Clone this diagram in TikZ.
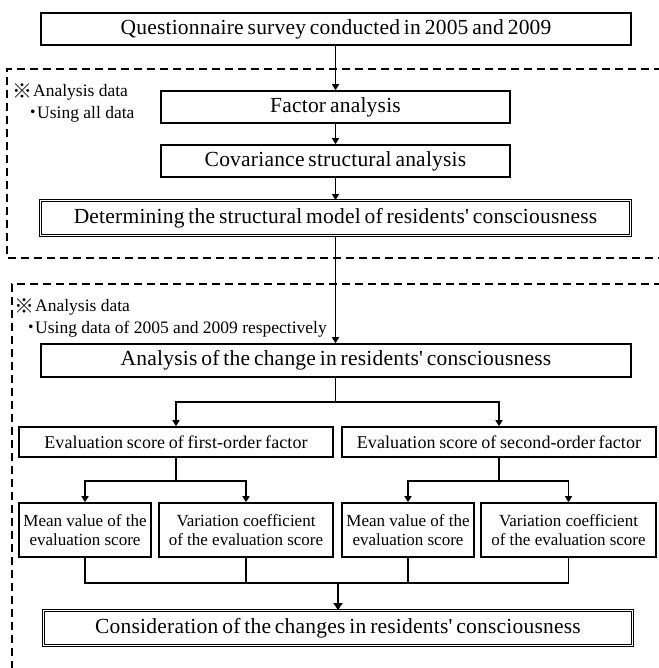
\documentclass[tikz,border=0pt]{standalone}
\usepackage{fontspec}
\setmainfont{Liberation Serif}
\newfontfamily\bigf{Liberation Serif}[LetterSpace=1,WordSpace=0.7]
\newfontfamily\midf{Liberation Serif}[LetterSpace=0.5,WordSpace=0.8]
\newfontfamily\cjk{Noto Sans CJK JP}
\newcommand{\refmark}{\raisebox{-1.5pt}{\cjk\fontsize{20}{18}\selectfont ※}}
\usetikzlibrary{arrows.meta}
\begin{document}
\begin{tikzpicture}[x=1pt,y=-1pt,
  box/.style={draw,line width=1.6pt,inner sep=0pt,align=center},
  bigbox/.style={box,font=\bigf\fontsize{21.5}{23}\selectfont},
  dbox/.style={draw,double,double distance=1.4pt,line width=0.9pt,inner sep=0pt,align=center,font=\bigf\fontsize{21.5}{23}\selectfont},
  evbox/.style={box,minimum width=314pt,minimum height=30pt,font=\midf\fontsize{18}{19}\selectfont},
  smbox/.style={box,minimum height=54pt,font=\fontsize{17}{19}\selectfont},
  note/.style={anchor=west,inner sep=0pt,font=\fontsize{17.5}{18}\selectfont},
  arr/.style={line width=1.8pt,-{Triangle[length=6pt,width=7pt]}},
  ln/.style={line width=1.8pt},
  thk/.style={line width=2.8pt,-{Triangle[length=7pt,width=9pt]}},
  dsh/.style={line width=1.6pt,dash pattern=on 8pt off 5pt}
]
\useasboundingbox (0,0) rectangle (658,668);
% dashed frames
\draw[dsh] (662,69) -- (7,69) -- (7,258) -- (662,258);
\draw[dsh] (662,284) -- (12,284) -- (12,672);
% notes
\node[note] (n1a) at (12,92) {\refmark\kern1pt Analysis data};
\node[note] (n1b) at (29,114) {\makebox[8pt]{\cjk ・}Using all data};
\node[note] (n2a) at (14,307) {\refmark\kern1pt Analysis data};
\node[note] (n2b) at (27,329) {\makebox[8pt]{\cjk ・}Using data of 2005 and 2009 respectively};
% boxes
\node[bigbox,minimum width=590pt,minimum height=32pt] (q) at (336,29) {Questionnaire survey conducted in 2005 and 2009};
\node[bigbox,minimum width=349pt,minimum height=32pt] (fa) at (335.5,107) {Factor analysis};
\node[bigbox,minimum width=349pt,minimum height=32pt] (cs) at (335.5,161) {Covariance structural analysis};
\node[dbox,minimum width=590pt,minimum height=35pt] (dm) at (335.5,218) {Determining the structural model of residents' consciousness};
\node[bigbox,minimum width=590pt,minimum height=33pt] (an) at (336,360.5) {Analysis of the change in residents' consciousness};
\node[evbox] (e1) at (176,442) {Evaluation score of first-order factor};
\node[evbox] (e2) at (499,442) {Evaluation score of second-order factor};
\node[smbox,minimum width=132pt] (m1) at (85,530) {Mean value of the\\evaluation score};
\node[smbox,minimum width=174pt] (v1) at (246,530) {Variation coefficient\\of the evaluation score};
\node[smbox,minimum width=132pt] (m2) at (408,530) {Mean value of the\\evaluation score};
\node[smbox,minimum width=175pt] (v2) at (568.5,530) {Variation coefficient\\of the evaluation score};
\node[dbox,minimum width=589pt,minimum height=35pt] (cn) at (338,628) {Consideration of the changes in residents' consciousness};
% connectors
\draw[arr] (fa.north |- q.south) -- (fa.north);
\draw[arr] (fa.south) -- (cs.north);
\draw[arr] (cs.south) -- (dm.north);
\draw[arr] (dm.south) -- (an.north -| dm.south);
\coordinate (s0) at (335.5,402);
\draw[ln] (an.south -| s0) -- (s0);
\draw[arr] (s0) -| (e1.north);
\draw[arr] (s0) -| (e2.north);
\coordinate (s1) at (176,481);
\draw[ln] (e1.south) -- (s1);
\draw[arr] (s1) -| (m1.north);
\draw[arr] (s1) -| (v1.north);
\coordinate (s2) at (499,481);
\draw[ln] (e2.south) -- (s2);
\draw[arr] (s2) -| (m2.north);
\draw[arr] (s2) -| (v2.north);
\coordinate (j) at (338,583);
\draw[ln] (m1.south) -- (m1.south |- j) -- (v2.south |- j) -- (v2.south);
\draw[ln] (v1.south) -- (v1.south |- j);
\draw[ln] (m2.south) -- (m2.south |- j);
\draw[thk] (j) -- (cn.north);
\end{tikzpicture}
\end{document}
